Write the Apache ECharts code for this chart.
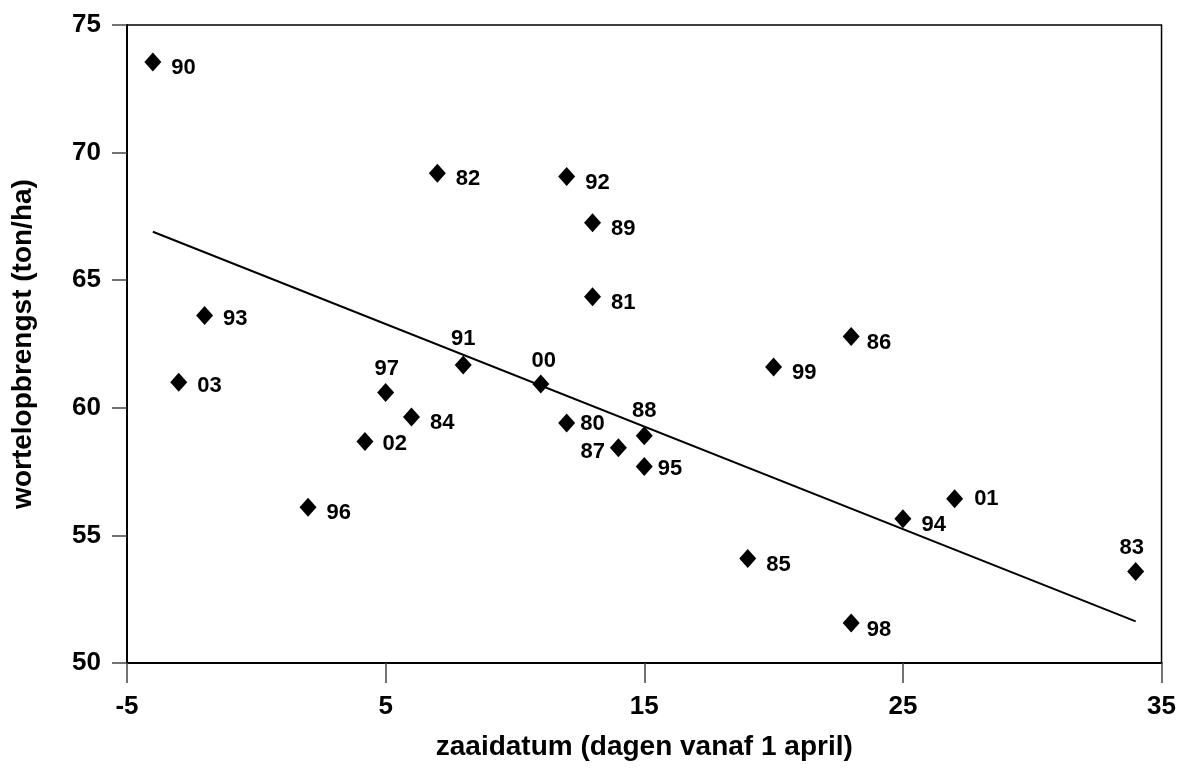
<!DOCTYPE html>
<html>
<head>
<meta charset="utf-8">
<title>wortelopbrengst</title>
<script src="https://cdn.jsdelivr.net/npm/echarts@6/dist/echarts.min.js"></script>
<style>
    html, body { margin: 0; padding: 0; background: #fff; }
    #chart { width: 1179px; height: 769px; }
</style>
</head>
<body>
<div id="chart"></div>
<script>
// jaartallen (labels bij de punten)
const years = ['90', '03', '93', '96', '02', '97', '84', '82', '91', '00', '92', '80',
    '89', '81', '87', '88', '95', '85', '99', '86', '98', '94', '01', '83'];
// zaaidatum in dagen vanaf 1 april
const sowDay = [-4, -3, -2, 2, 4.2, 5, 6, 7, 8, 11, 12, 12,
    13, 13, 14, 15, 15, 19, 20, 23, 23, 25, 27, 34];
// opbrengst in ton/ha
const yieldTon = [73.55, 61.0, 63.62, 56.1, 58.68, 60.6, 59.64, 69.19, 61.68, 60.93, 69.06, 59.4,
    67.25, 64.35, 58.43, 58.9, 57.7, 54.09, 61.6, 62.79, 51.57, 55.65, 56.44, 53.59];
// trendlijn
const trendX = [-4, 34];
const trendY = [66.9, 51.63];
// as-verdeling
const xTicks = [-5, 5, 15, 25, 35];
const yTicks = [50, 55, 60, 65, 70, 75];

const FONT = 'Liberation Sans, Arial, sans-serif';

// plaatsing van de labels: [positie, afstand, dx, dy]
const labelPlace = {
    '97': ['top', 3, 1, 0],
    '91': ['top', 5, 0, 0],
    '00': ['top', 3, 3, 0],
    '88': ['top', 4, 0, 0],
    '83': ['top', 3, -4, 0],
    '87': ['left', 5, 0, 4],
    '80': ['right', 5, 0, 1],
    '95': ['right', 5, 0, 2],
    '01': ['right', 11, 0, 0],
    '02': ['right', 9, 0, 2],
    '03': ['right', 10, 0, 4],
    '93': ['right', 10, 0, 4],
    '86': ['right', 7, 0, 6],
    '98': ['right', 7, 0, 7]
};

const points = years.map((y, i) => {
    const p = labelPlace[y] || ['right', 10, 0, 6];
    return {
        value: [sowDay[i], yieldTon[i]],
        name: y,
        label: {position: p[0], distance: p[1], offset: [p[2], p[3]]}
    };
});

const chart = echarts.init(document.getElementById('chart'));
const option = {
    animation: false,
    backgroundColor: '#fff',
    textStyle: {fontFamily: FONT},
    grid: {
        left: 127,
        right: 16,
        top: 25,
        bottom: 106,
        show: true,
        borderColor: '#000',
        borderWidth: 1.5
    },
    xAxis: {
        type: 'value',
        min: xTicks[0],
        max: xTicks[xTicks.length - 1],
        interval: 10,
        name: 'zaaidatum (dagen vanaf 1 april)',
        nameLocation: 'middle',
        nameGap: 70,
        nameTextStyle: {fontSize: 28, fontWeight: 'bold', color: '#000', fontFamily: FONT},
        axisLine: {show: true, onZero: false, lineStyle: {color: '#000', width: 2}},
        axisTick: {show: true, length: 20, lineStyle: {color: '#444', width: 1.5}},
        axisLabel: {fontSize: 26, fontWeight: 'bold', color: '#000', margin: 31, fontFamily: FONT},
        splitLine: {show: false}
    },
    yAxis: {
        type: 'value',
        min: yTicks[0],
        max: yTicks[yTicks.length - 1],
        interval: 5,
        name: 'wortelopbrengst (ton/ha)',
        nameLocation: 'middle',
        nameGap: 90,
        nameTextStyle: {fontSize: 28, fontWeight: 'bold', color: '#000', fontFamily: FONT},
        axisLine: {show: true, onZero: false, lineStyle: {color: '#000', width: 2}},
        axisTick: {show: true, length: 15, lineStyle: {color: '#444', width: 1.5}},
        axisLabel: {fontSize: 26, fontWeight: 'bold', color: '#000', margin: 26, fontFamily: FONT},
        splitLine: {show: false}
    },
    series: [
        {
            type: 'line',
            data: trendX.map((x, i) => [x, trendY[i]]),
            symbol: 'none',
            lineStyle: {color: '#000', width: 2},
            silent: true,
            z: 1
        },
        {
            type: 'scatter',
            data: points,
            symbol: 'diamond',
            symbolSize: [17, 19],
            itemStyle: {color: '#000', opacity: 1},
            label: {
                show: true,
                formatter: '{b}',
                fontSize: 22,
                fontWeight: 'bold',
                color: '#000',
                fontFamily: FONT
            },
            z: 2
        }
    ]
};
chart.setOption(option);
</script>
</body>
</html>
